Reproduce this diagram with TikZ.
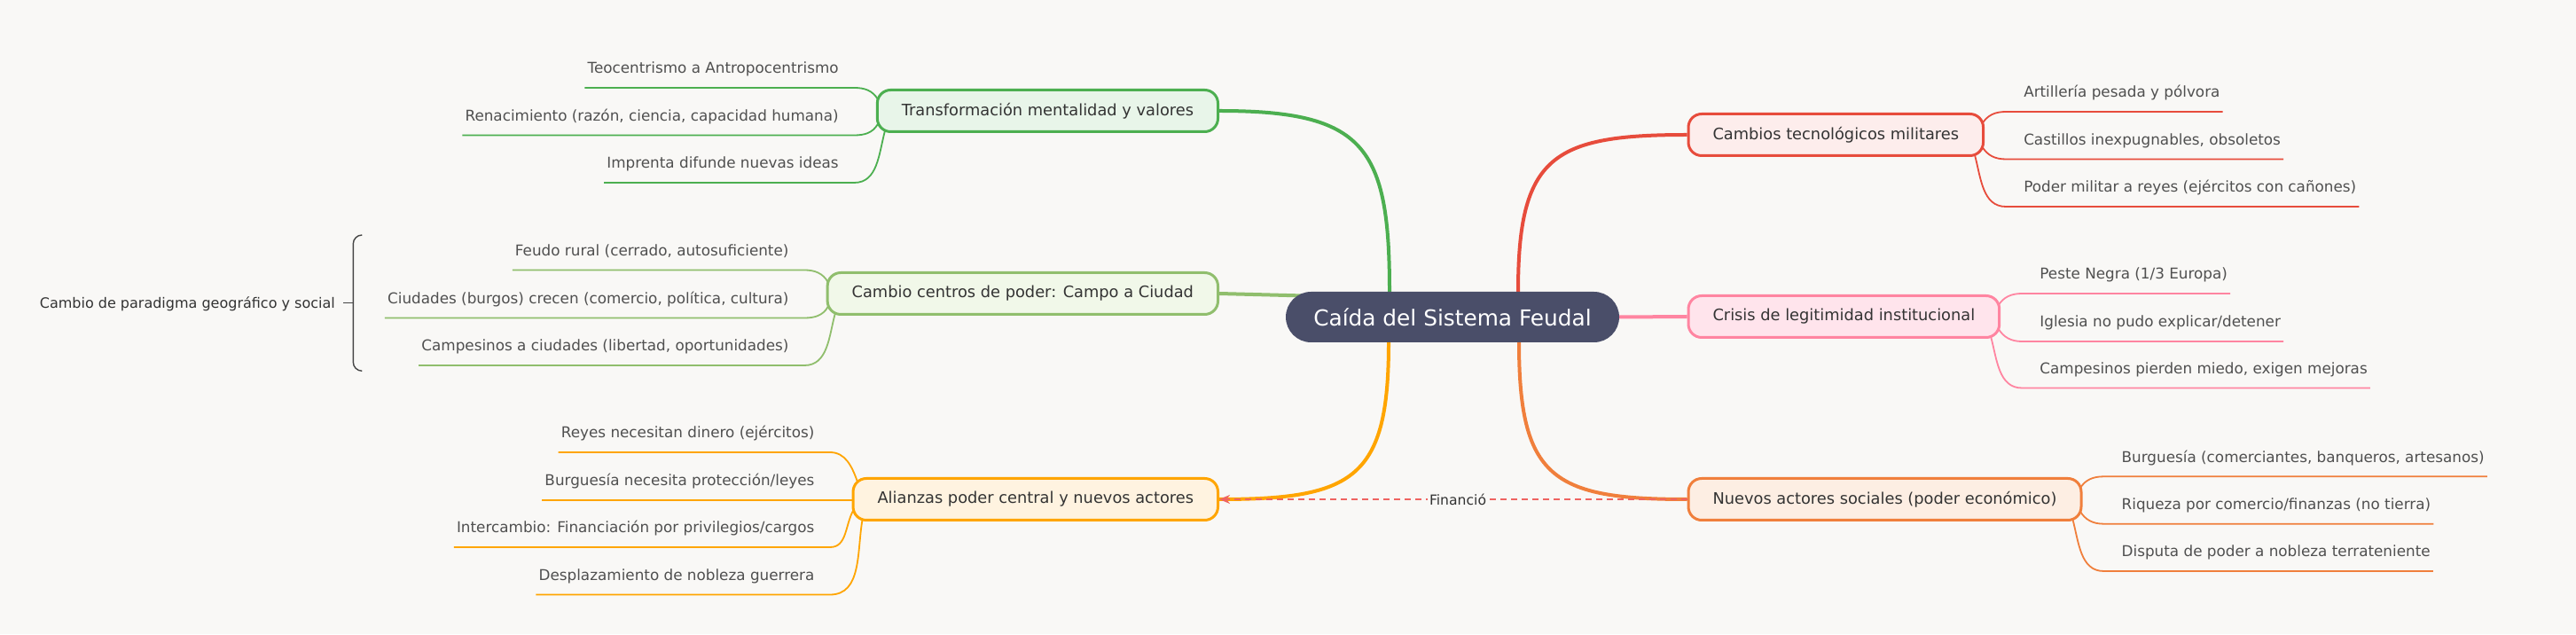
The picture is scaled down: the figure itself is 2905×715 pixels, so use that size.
\documentclass[tikz,border=0pt]{standalone}
\usepackage{fontspec}
\setmainfont{DejaVu Sans}
\usetikzlibrary{arrows.meta,calc,positioning}
\pgfdeclarelayer{background}
\pgfsetlayers{background,main}

\definecolor{bgc}{HTML}{F9F8F6}
\definecolor{rootc}{HTML}{4A4E69}
\definecolor{cGreen}{HTML}{4CAF50}  \definecolor{cGreenL}{HTML}{E8F5E9}
\definecolor{cLime}{HTML}{90BE6D}   \definecolor{cLimeL}{HTML}{F1F8E9}
\definecolor{cAmber}{HTML}{FFA500}  \definecolor{cAmberL}{HTML}{FFF3E0}
\definecolor{cRed}{HTML}{E74C3C}    \definecolor{cRedL}{HTML}{FDEDEC}
\definecolor{cPink}{HTML}{FF85A1}   \definecolor{cPinkL}{HTML}{FFE4EC}
\definecolor{cOrange}{HTML}{F07F3C} \definecolor{cOrangeL}{HTML}{FDEEE3}
\definecolor{cLink}{HTML}{EF6461}
\definecolor{txtdark}{HTML}{333333}
\definecolor{txtleaf}{HTML}{505050}

\tikzset{
  hub/.style={fill=rootc,text=white,rounded corners=28.5pt,minimum width=376pt,
    minimum height=57pt,font=\fontsize{24.8}{29}\selectfont},
  topic/.style={draw=#1,fill=#1L,line width=3pt,rounded corners=15pt,inner xsep=27.5pt,
    minimum height=47pt,text=txtdark,font=\fontsize{17.8}{21}\selectfont},
  leaf/.style={inner xsep=3pt,inner ysep=16pt,text depth=0pt,text=txtleaf,
    font=\fontsize{16.8}{20}\selectfont},
  trunk/.style={draw=#1,line width=4pt},
  twig/.style={draw=#1,line width=1.8pt},
  link/.style={draw=cLink,line width=2pt,dash pattern=on 7pt off 5pt,
    -{Stealth[length=12pt,width=10pt]}},
  fin/.style={fill=bgc,inner sep=2pt,text=txtdark,font=\fontsize{15.6}{18}\selectfont},
  note/.style={inner sep=0pt,text=txtdark,font=\fontsize{16}{19}\selectfont},
  brace/.style={draw=black!73,line width=1.4pt,rounded corners=10pt},
}

\begin{document}
\begin{tikzpicture}[x=1pt,y=1pt,>=Stealth]
\useasboundingbox (0,0) rectangle (2905,715);
\begin{pgfonlayer}{background}
\fill[bgc] (0,0) rectangle (2905,715);
\end{pgfonlayer}

\node[hub] (root) at (1638,357.5) {Caída del Sistema Feudal};
% left branches
\node[topic=cGreen,anchor=east] (mind) at (1375,590) {Transformación mentalidad y valores};
\node[topic=cLime,anchor=east] (campo) at (1375,384) {Cambio centros de poder: Campo a Ciudad};
\node[topic=cAmber,anchor=east] (alli) at (1375,152) {Alianzas poder central y nuevos actores};
% right branches
\node[topic=cRed,anchor=west] (tech) at (1902.5,563) {Cambios tecnológicos militares};
\node[topic=cPink,anchor=west] (crisis) at (1902.5,358) {Crisis de legitimidad institucional};
\node[topic=cOrange,anchor=west] (actors) at (1902.5,152) {Nuevos actores sociales (poder económico)};

\begin{pgfonlayer}{background}
\draw[trunk=cGreen] ($(root.north)+(-71,0)$) to[out=90,in=0,looseness=1.5] (mind.east);
\draw[trunk=cRed] ($(root.north)+(74,0)$) to[out=90,in=180,looseness=1.5] (tech.west);
\draw[trunk=cPink] (root.east) -- (crisis.west);
\draw[trunk=cOrange] ($(root.south)+(75,0)$) to[out=-90,in=180,looseness=1.5] (actors.west);
\draw[trunk=cAmber] ($(root.south)+(-72,0)$) to[out=-90,in=0,looseness=1.5] (alli.east);
\draw[trunk=cLime] (campo.east) -- ($(root.west)+(20,24)$);
\end{pgfonlayer}

% leaves on the left
\foreach \b/\c/\dy/\ex/\ey/\a/\txt [count=\i] in {
  mind/cGreen/26/2/13/120/{Teocentrismo a Antropocentrismo},
  mind/cGreen/-27.5/2/-15/240/{Renacimiento (razón, ciencia, capacidad humana)},
  mind/cGreen/-81/10/-23/255/{Imprenta difunde nuevas ideas},
  campo/cLime/26.5/2/13/120/{Feudo rural (cerrado, autosuficiente)},
  campo/cLime/-27.5/2/-15/240/{Ciudades (burgos) crecen (comercio, política, cultura)},
  campo/cLime/-81/10/-23/255/{Campesinos a ciudades (libertad, oportunidades)},
  alli/cAmber/53/6/21/110/{Reyes necesitan dinero (ejércitos)},
  alli/cAmber/-1/0/-1/180/{Burguesía necesita protección/leyes},
  alli/cAmber/-54/2/-12/240/{Intercambio: Financiación por privilegios/cargos},
  alli/cAmber/-107.5/12/-23/260/{Desplazamiento de nobleza guerrera}}{
  \node[leaf,anchor=south east] (l\i) at ($(\b.west)+(-39,\dy)$) {\txt};
  \begin{pgfonlayer}{background}
  \draw[twig=\c] (l\i.south west) -- ($(l\i.south east)+(14.5,0)$)
    to[out=0,in=\a] ($(\b.west)+(\ex,\ey)$);
  \end{pgfonlayer}
}

% leaves on the right
\foreach \b/\c/\dy/\sx/\sy/\a/\txt [count=\i] in {
  tech/cRed/26/-3/12/60/{Artillería pesada y pólvora},
  tech/cRed/-27.5/-3/-13/-60/{Castillos inexpugnables, obsoletos},
  tech/cRed/-81/-11/-23/-75/{Poder militar a reyes (ejércitos con cañones)},
  crisis/cPink/26/-3/12/60/{Peste Negra (1/3 Europa)},
  crisis/cPink/-28/-3/-13/-60/{Iglesia no pudo explicar/detener},
  crisis/cPink/-80.5/-11/-23/-75/{Campesinos pierden miedo, exigen mejoras},
  actors/cOrange/25.7/-3/12/60/{Burguesía (comerciantes, banqueros, artesanos)},
  actors/cOrange/-27.7/-3/-13/-60/{Riqueza por comercio/finanzas (no tierra)},
  actors/cOrange/-81/-11/-23/-75/{Disputa de poder a nobleza terrateniente}}{
  \node[leaf,anchor=south west] (r\i) at ($(\b.east)+(41,\dy)$) {\txt};
  \begin{pgfonlayer}{background}
  \draw[twig=\c] ($(\b.east)+(\sx,\sy)$) to[out=\a,in=180]
    ($(r\i.south west)+(-17,0)$) -- (r\i.south east);
  \end{pgfonlayer}
}

% cross link
\draw[link] (actors.west) -- node[fin,pos=0.49] (finlab) {Financió} (alli.east);

% summary brace
\node[note,anchor=base east] (note) at (378,367) {Cambio de paradigma geográfico y social};
\coordinate (bmid) at (398.3,373.3);
\draw[brace] (408.3,450) -- (398.3,450) -- (398.3,296.7) -- (408.3,296.7);
\draw[brace] (bmid) -- ($(note.east |- bmid)+(9,0)$);
\end{tikzpicture}
\end{document}
